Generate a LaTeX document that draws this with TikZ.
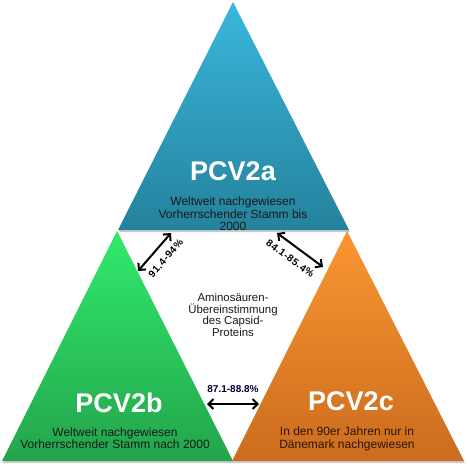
\documentclass[tikz,border=0pt]{standalone}
\usepackage{fontspec}
\setmainfont{Liberation Sans}
\usetikzlibrary{arrows.meta}

\definecolor{blueTop}{HTML}{3AB7DC}
\definecolor{blueBot}{HTML}{24829C}
\definecolor{greenTop}{HTML}{30EA6C}
\definecolor{greenBot}{HTML}{24A44C}
\definecolor{orangeTop}{HTML}{FA9632}
\definecolor{orangeBot}{HTML}{CC6C1E}

\tikzset{
  strain/.style={font=\fontsize{27}{27}\selectfont\bfseries, text=white},
  info/.style={align=center, font=\fontsize{12}{12.5}\selectfont, text=black!90},
  pct/.style={<->, >={Straight Barb[length=5pt,width=10pt]}, line width=2pt},
  pctlabel/.style={font=\fontsize{10}{10}\selectfont\bfseries, inner sep=0pt},
  slopelabel/.style={pctlabel, sloped, font=\fontsize{10}{10}\selectfont\bfseries\addfontfeature{LetterSpace=6}}
}

\begin{document}
\begin{tikzpicture}[x=1pt,y=-1pt]
  \useasboundingbox (0,0) rectangle (467,469);

  % the three triangles
  \foreach \n/\xa/\ya/\xb/\yb/\xc/\yc/\ct/\cb in {
      a/118/230/349/230/233/2/blueTop/blueBot,
      b/2/461/233/461/117/231/greenTop/greenBot,
      c/232/461/464/461/347/231/orangeTop/orangeBot} {
    \fill[black!20] (\xa+1,\ya+2) -- (\xb+1,\yb+2) -- (\xc+1,\yc+2) -- cycle;
    \shade[top color=\ct, bottom color=\cb] (\xa,\ya) -- (\xb,\yb) -- (\xc,\yc) -- cycle;
  }

  \node[strain] (pcva) at (233,171) {PCV2a};
  \node[info] (infoa) at (233,214) {Weltweit nachgewiesen\\Vorherrschender Stamm bis\\2000};

  \node[strain] (pcvb) at (119,403) {PCV2b};
  \node[info] (infob) at (115,438) {Weltweit nachgewiesen\\Vorherrschender Stamm nach 2000};

  \node[strain] (pcvc) at (351,401) {PCV2c};
  \node[info, text=black!80!orangeBot] (infoc) at (347,439) {In den 90er Jahren nur in\\Dänemark nachgewiesen};

  \node[info, font=\fontsize{11.4}{11.6}\selectfont] (capsid) at (233,315)
    {Aminosäuren-\\Übereinstimmung\\des Capsid-\\Proteins};

  % arrow ends
  \coordinate (ab1) at (138,271);
  \coordinate (ab2) at (171,233);
  \coordinate (ac1) at (277,233);
  \coordinate (ac2) at (323,267);
  \coordinate (bc1) at (207,404);
  \coordinate (bc2) at (259,404);

  \draw[pct] (ab1) -- node[slopelabel, below=8pt, pos=0.55] (ablabel) {91.4-94\%} (ab2);
  \draw[pct] (ac1) -- node[slopelabel, below=8pt, pos=0.45] (aclabel) {84.1-85.4\%} (ac2);
  \draw[pct] (bc1) -- node[pctlabel, above=10pt, text=blue!20!black] (bclabel) {87.1-88.8\%} (bc2);
\end{tikzpicture}
\end{document}
